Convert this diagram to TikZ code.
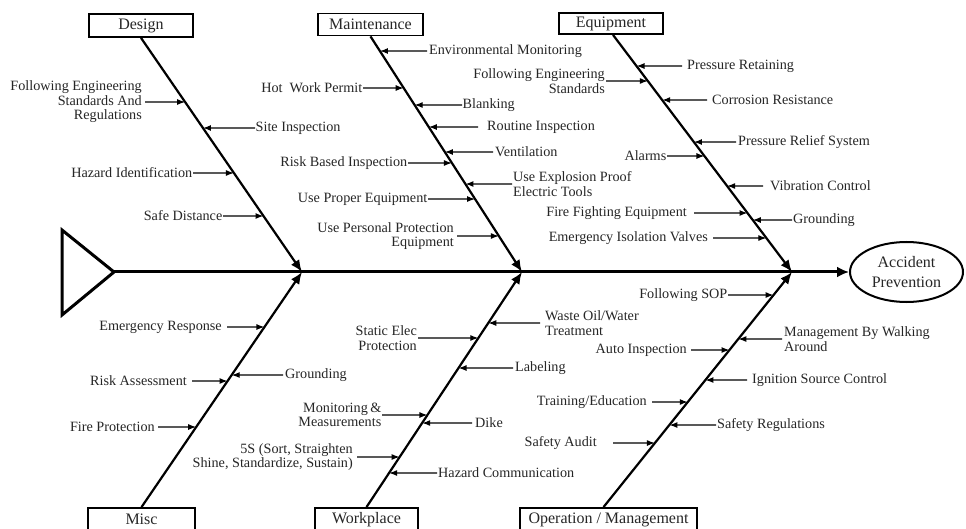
\documentclass[tikz,border=0pt]{standalone}
\usepackage{fontspec}
\setmainfont{Liberation Serif}
\usetikzlibrary{arrows.meta,shapes.geometric}
\newcommand{\ribL}[6][1pt]{%
  \node[lab, anchor=east, align=right, inner xsep=#1] (#2) at #5 {#6};
  \coordinate (#2t) at (intersection cs: first line={(#3)--(#4)}, second line={(#2.east)--([xshift=10pt]#2.east)});
  \draw[rib] (#2.east) -- (#2t);
}
\newcommand{\ribR}[6][1pt]{%
  \node[lab, anchor=west, align=left, inner xsep=#1] (#2) at #5 {#6};
  \coordinate (#2t) at (intersection cs: first line={(#3)--(#4)}, second line={(#2.west)--([xshift=-10pt]#2.west)});
  \draw[rib] (#2.west) -- (#2t);
}
\begin{document}
\begin{tikzpicture}[x=1pt,y=-1pt,
  lab/.style={font=\fontsize{14.2}{14.5}\selectfont, text=black!85, inner ysep=0pt},
  cat/.style={draw, line width=1.8pt, font=\fontsize{16}{18}\selectfont, text=black!85, inner sep=0pt},
  rib/.style={line width=1.2pt, -{Latex[length=8pt,width=6pt]}},
  bone/.style={line width=2.2pt, -{Latex[length=12pt,width=10pt]}},
  spine/.style={line width=3pt, -{Latex[length=12pt,width=11pt]}},
]
\path[use as bounding box, fill=white] (0,0) rectangle (966,529);

% head and tail
\draw[line width=3pt] (62,230) -- (114,272) -- (62,315) -- cycle;
\coordinate (T) at (114,272);
\node[ellipse, draw, line width=2pt, minimum width=113pt, minimum height=60pt,
      font=\fontsize{16}{20}\selectfont, text=black!85, align=center, inner sep=0pt]
      (AP) at (906.5,272) {Accident\\Prevention};
\draw[spine] (T) -- (AP.west);

\coordinate (J1) at (302,272);
\coordinate (J2) at (522,272);
\coordinate (J3) at (792,272);

% category boxes
\node[cat, minimum width=104pt, minimum height=23pt] (D) at (141,25.5) {Design};
\node[cat, minimum width=105pt, minimum height=22pt] (M) at (370.5,24.5) {Maintenance};
\node[cat, minimum width=104pt, minimum height=21pt] (E) at (611,23.5) {Equipment};
\node[cat, minimum width=107pt, minimum height=23pt] (Mi) at (141.5,519.5) {Misc};
\node[cat, minimum width=103pt, minimum height=23pt] (W) at (366.5,519.5) {Workplace};
\node[cat, minimum width=177pt, minimum height=23pt] (O) at (608.5,519.5) {Operation / Management};

\coordinate (Eb) at ([xshift=2pt]E.south);
\coordinate (Ob) at ([xshift=-5pt]O.north);

% bones
\draw[bone] (D.south) -- (J1);
\draw[bone] (M.south) -- (J2);
\draw[bone] (Eb) -- (J3);
\draw[bone] (Mi.north) -- (J1);
\draw[bone] (W.north) -- (J2);
\draw[bone] (Ob) -- (J3);

% Design
\ribL[3pt]{d1}{D.south}{J1}{(145,102)}{Following Engineering\\Standards And\\Regulations}
\ribR[0.5pt]{d2}{D.south}{J1}{(255,128)}{Site Inspection}
\ribL[0.5pt]{d3}{D.south}{J1}{(193,173)}{Hazard Identification}
\ribL[0.5pt]{d4}{D.south}{J1}{(223,216)}{Safe Distance}

% Maintenance
\ribR[2pt]{m1}{M.south}{J2}{(427,51)}{Environmental Monitoring}
\ribL[0.5pt]{m2}{M.south}{J2}{(363,88)}{Hot\ \ Work Permit}
\ribR[0.5pt]{m3}{M.south}{J2}{(462,105)}{Blanking}
\ribR[9pt]{m4}{M.south}{J2}{(478,127)}{Routine Inspection}
\ribR[2pt]{m5}{M.south}{J2}{(493,152)}{Ventilation}
\ribL[0.5pt]{m6}{M.south}{J2}{(408,163)}{Risk Based Inspection}
\ribR[1pt]{m7}{M.south}{J2}{(512,184)}{Use Explosion Proof\\Electric Tools}
\ribL[0.5pt]{m8}{M.south}{J2}{(428,199)}{Use Proper Equipment}
\ribL[3pt]{m9}{M.south}{J2}{(457,236)}{Use Personal Protection\\Equipment}

% Equipment
\ribR[5pt]{e1}{Eb}{J3}{(682,66)}{Pressure Retaining}
\ribL[1pt]{e2}{Eb}{J3}{(606,81)}{Following Engineering\\Standards}
\ribR[5pt]{e3}{Eb}{J3}{(707,100)}{Corrosion Resistance}
\ribR[2pt]{e4}{Eb}{J3}{(736,142)}{Pressure Relief System}
\ribL[0.5pt]{e5}{Eb}{J3}{(667,156)}{Alarms}
\ribR[7pt]{e6}{Eb}{J3}{(763,186)}{Vibration Control}
\ribL[7pt]{e7}{Eb}{J3}{(694,213)}{Fire Fighting Equipment}
\ribR[1pt]{e8}{Eb}{J3}{(792,220)}{Grounding}
\ribL[5pt]{e9}{Eb}{J3}{(713,238)}{Emergency Isolation Valves}

% Misc
\ribL[5pt]{s1}{Mi.north}{J1}{(227,327)}{Emergency Response}
\ribR[2pt]{s2}{Mi.north}{J1}{(283,375)}{Grounding}
\ribL[5pt]{s3}{Mi.north}{J1}{(192,381)}{Risk Assessment}
\ribL[3pt]{s4}{Mi.north}{J1}{(158,427)}{Fire Protection}

% Workplace
\ribR[5pt]{w1}{W.north}{J2}{(540,323)}{Waste Oil/Water\\Treatment}
\ribL[1pt]{w2}{W.north}{J2}{(418,338)}{Static Elec\\Protection}
\ribR[2pt]{w3}{W.north}{J2}{(513,368)}{Labeling}
\ribL[0.5pt]{w4}{W.north}{J2}{(382,415)}{Monitoring\,\&\\Measurements}
\ribR[3pt]{w5}{W.north}{J2}{(472,423)}{Dike}
\ribL[4pt]{w6}{W.north}{J2}{(357,457)}{5S (Sort, Straighten\\Shine, Standardize, Sustain)}
\ribR[1pt]{w7}{W.north}{J2}{(437,473)}{Hazard Communication}

% Operation / Management
\ribL[0.5pt]{o1}{Ob}{J3}{(728,295)}{Following SOP}
\ribR[2pt]{o2}{Ob}{J3}{(782,339)}{Management By Walking\\Around}
\ribL[4pt]{o3}{Ob}{J3}{(691,350)}{Auto Inspection}
\ribR[5pt]{o4}{Ob}{J3}{(747,380)}{Ignition Source Control}
\ribL[5pt]{o5}{Ob}{J3}{(652,402)}{Training/Education}
\ribR[1pt]{o6}{Ob}{J3}{(716,425)}{Safety Regulations}
\ribL[16pt]{o7}{Ob}{J3}{(613,443)}{Safety Audit}
\end{tikzpicture}
\end{document}
